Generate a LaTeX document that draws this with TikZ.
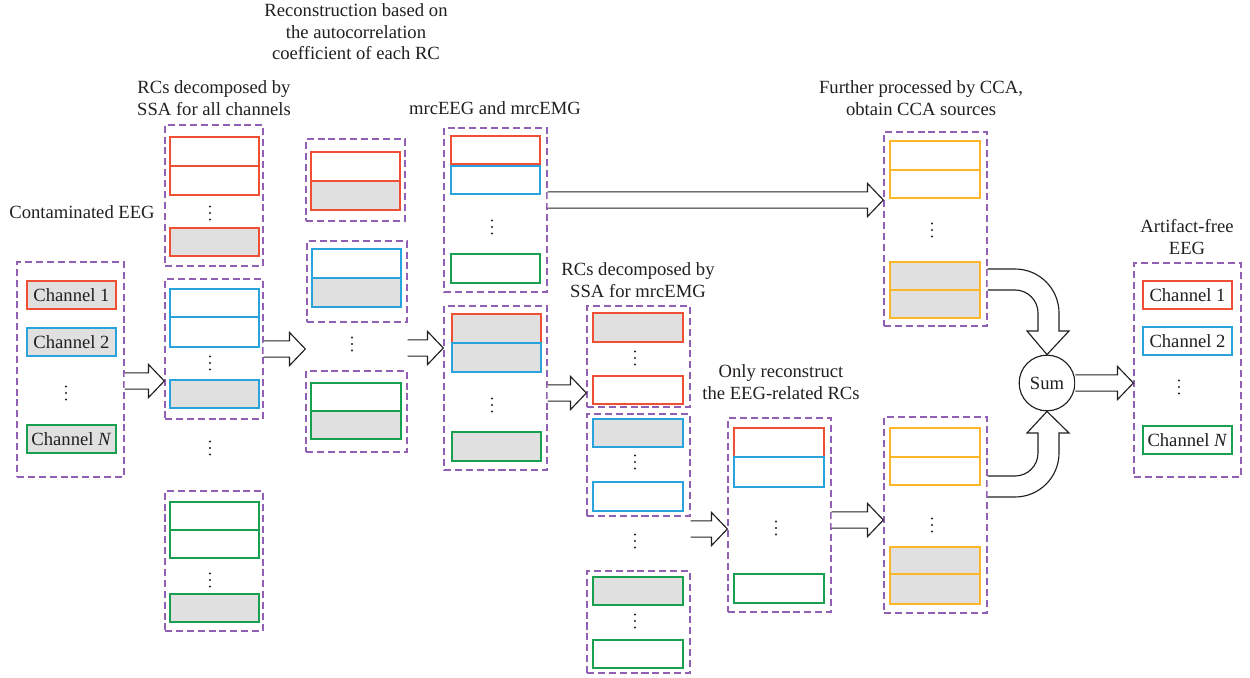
\documentclass[tikz,border=0pt]{standalone}
\usepackage{fontspec}
\setmainfont{Liberation Serif}
\usetikzlibrary{fit,calc}
\definecolor{cred}{RGB}{239,80,52}
\definecolor{cblue}{RGB}{41,163,221}
\definecolor{cgreen}{RGB}{24,160,80}
\definecolor{corange}{RGB}{251,183,40}
\definecolor{cpurp}{RGB}{145,95,180}
\definecolor{cgray}{RGB}{224,224,224}
\definecolor{ctext}{RGB}{35,31,32}
\newcommand\rcb[6]{\draw[draw=#1,fill=#2,line width=0.85pt] (#3,#4) rectangle (#5,#6);}
\newcommand\vd[3]{\coordinate (#1) at (#2,#3);
  \fill[ctext] (#2,#3-6.5) circle (0.65pt) (#2,#3) circle (0.65pt) (#2,#3+6.5) circle (0.65pt);}
\newcommand\barrow[3]{\draw[barr] let \p1=(#1.east), \p2=(#2.west), \p3=(0,#3) in
  (\x1,\y3+4.6pt) -- (\x2-9pt,\y3+4.6pt) -- (\x2-9pt,\y3+9.4pt) -- (\x2,\y3)
  -- (\x2-9pt,\y3-9.4pt) -- (\x2-9pt,\y3-4.6pt) -- (\x1,\y3-4.6pt);}
\begin{document}
\begin{tikzpicture}[x=0.02cm,y=-0.02cm,
  grp/.style={draw=cpurp, line width=0.75pt, dash pattern=on 4pt off 2.2pt, inner sep=0pt},
  barr/.style={draw=ctext, line width=0.65pt, fill=white},
  txt/.style={text=ctext, align=center, font=\fontsize{10.6}{12.3}\selectfont},
  chan/.style={line width=0.85pt, minimum width=50.4pt, minimum height=15.9pt, inner sep=0pt, text=ctext, font=\fontsize{10.6}{12.3}\selectfont}]
\useasboundingbox (0,0) rectangle (1250,678);

% ---- titles
\node[txt] (t1) at (82,212) {Contaminated EEG};
\node[txt] (t2) at (214,98) {RCs decomposed by\\SSA for all channels};
\node[txt] (t3) at (356,32) {Reconstruction based on\\the autocorrelation\\coefficient of each RC};
\node[txt] (t4) at (495,108) {mrcEEG and mrcEMG};
\node[txt] (t5) at (638,280) {RCs decomposed by\\SSA for mrcEMG};
\node[txt] (t6) at (781,382) {Only reconstruct\\the EEG-related RCs};
\node[txt] (t7) at (921,98) {Further processed by CCA,\\obtain CCA sources};
\node[txt] (t8) at (1187,237) {Artifact-free\\EEG};

% ---- column 1: contaminated EEG
\node[grp, fit={(17,262)(124,477)}] (c1) {};
\node[chan, draw=cred, fill=cgray] (ch1) at (71.5,295) {Channel 1};
\node[chan, draw=cblue, fill=cgray] (ch2) at (71.5,342) {Channel 2};
\vd{d1}{66}{393}
\node[chan, draw=cgreen, fill=cgray] (chN) at (71.5,439) {Channel \textit{N}};

% ---- column 2: RCs for all channels
\node[grp, fit={(165,125)(263,266)}] (g2r) {};
\rcb{cred}{white}{170}{137}{259}{166}
\rcb{cred}{white}{170}{166}{259}{195}
\vd{d2a}{210}{213}
\rcb{cred}{cgray}{170}{228}{259}{256}
\node[grp, fit={(165,279)(263,419)}] (g2b) {};
\rcb{cblue}{white}{170}{289}{259}{317}
\rcb{cblue}{white}{170}{317}{259}{347}
\vd{d2b}{210}{363}
\rcb{cblue}{cgray}{170}{380}{259}{408}
\vd{d2c}{210}{448}
\node[grp, fit={(165,491)(263,631)}] (g2g) {};
\rcb{cgreen}{white}{170}{502}{259}{530}
\rcb{cgreen}{white}{170}{530}{259}{558}
\vd{d2d}{210}{580}
\rcb{cgreen}{cgray}{170}{594}{259}{622}

% ---- column 3: reconstruction
\node[grp, fit={(306,139)(405,221)}] (g3r) {};
\rcb{cred}{white}{311}{152}{400}{181}
\rcb{cred}{cgray}{311}{181}{400}{210}
\node[grp, fit={(307,241)(407,322)}] (g3b) {};
\rcb{cblue}{white}{312}{249}{401}{278}
\rcb{cblue}{cgray}{312}{278}{401}{307}
\vd{d3}{352}{344}
\node[grp, fit={(306,371)(407,452)}] (g3g) {};
\rcb{cgreen}{white}{311}{383}{401}{411}
\rcb{cgreen}{cgray}{311}{411}{401}{439}

% ---- column 4: mrcEEG and mrcEMG
\node[grp, fit={(444,128)(547,292)}] (g4a) {};
\rcb{cred}{white}{451}{136}{540}{164}
\rcb{cblue}{white}{451}{166}{540}{194}
\vd{d4a}{492}{227}
\rcb{cgreen}{white}{451}{254}{540}{283}
\node[grp, fit={(444,306)(547,470)}] (g4b) {};
\rcb{cred}{cgray}{452}{314}{541}{343}
\rcb{cblue}{cgray}{452}{343}{541}{372}
\vd{d4b}{492}{405}
\rcb{cgreen}{cgray}{452}{432}{541}{461}

% ---- column 5: RCs for mrcEMG
\node[grp, fit={(587,306)(690,407)}] (g5r) {};
\rcb{cred}{cgray}{593}{313}{683}{342}
\vd{d5a}{635}{358}
\rcb{cred}{white}{593}{376}{683}{404}
\node[grp, fit={(587,414)(690,516)}] (g5b) {};
\rcb{cblue}{cgray}{593}{419}{683}{447}
\vd{d5b}{635}{462}
\rcb{cblue}{white}{593}{482}{683}{511}
\vd{d5c}{635}{541}
\node[grp, fit={(587,571)(690,673)}] (g5g) {};
\rcb{cgreen}{cgray}{593}{577}{683}{605}
\vd{d5d}{635}{621}
\rcb{cgreen}{white}{593}{640}{683}{668}

% ---- column 6: EEG-related RCs
\node[grp, fit={(728,418)(831,612)}] (g6) {};
\rcb{cred}{white}{734}{428}{824}{457}
\rcb{cblue}{white}{734}{457}{824}{487}
\vd{d6}{776}{528}
\rcb{cgreen}{white}{734}{574}{824}{603}

% ---- column 7: CCA sources
\node[grp, fit={(884,132)(987,326)}] (g7a) {};
\rcb{corange}{white}{890}{141}{980}{170}
\rcb{corange}{white}{890}{170}{980}{198}
\vd{d7a}{932}{230}
\rcb{corange}{cgray}{890}{262}{980}{290}
\rcb{corange}{cgray}{890}{290}{980}{318}
\node[grp, fit={(884,417)(987,613)}] (g7b) {};
\rcb{corange}{white}{890}{428}{980}{457}
\rcb{corange}{white}{890}{457}{980}{485}
\vd{d7b}{932}{525}
\rcb{corange}{cgray}{890}{547}{980}{574}
\rcb{corange}{cgray}{890}{574}{980}{604}

% ---- sum and output
\node[txt, draw=ctext, circle, line width=0.65pt, minimum size=31.7pt, inner sep=0pt] (sum) at (1047,383) {Sum};
\node[grp, fit={(1134,263)(1241,477)}] (g8) {};
\node[chan, draw=cred, fill=white] (o1) at (1187.5,295) {Channel 1};
\node[chan, draw=cblue, fill=white] (o2) at (1187.5,341) {Channel 2};
\vd{d8}{1179}{387}
\node[chan, draw=cgreen, fill=white] (oN) at (1187.5,440) {Channel \textit{N}};

% ---- block arrows
\barrow{c1}{g2b}{381}
\barrow{g2b}{g3g}{349}
\barrow{g3g}{g4b}{348}
\barrow{g4a}{g7a}{200}
\barrow{g4b}{g5r}{393}
\barrow{g5b}{g6}{529}
\barrow{g6}{g7b}{520}
\barrow{sum}{g8}{383}

% ---- curved arrows into Sum
\draw[barr] (g7a.east |- 0,269) -- (1015,269) .. controls (1039.3,269) and (1059,288.7) .. (1059,313)
  -- (1059,331) -- (1069,331) -- (sum.north) -- (1027,331) -- (1038,331) -- (1038,313)
  .. controls (1038,300.3) and (1027.7,290) .. (1015,290) -- (g7a.east |- 0,290);
\draw[barr] (g7b.east |- 0,476) -- (1015,476) .. controls (1027.7,476) and (1038,465.7) .. (1038,453)
  -- (1038,433) -- (1027,433) -- (sum.south) -- (1069,433) -- (1059,433) -- (1059,453)
  .. controls (1059,477.3) and (1039.3,497) .. (1015,497) -- (g7b.east |- 0,497);
\end{tikzpicture}
\end{document}
